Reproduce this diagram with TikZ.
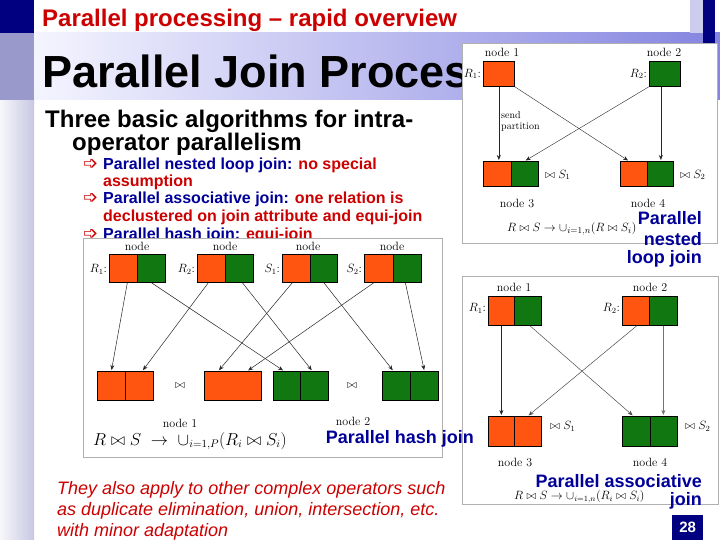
\documentclass[tikz,border=0pt]{standalone}
\usepackage{fontspec}
\newfontfamily\arial{Liberation Sans}
\newfontfamily\dejavu{DejaVu Sans}
\usetikzlibrary{arrows.meta}
\definecolor{navy}{HTML}{000080}
\definecolor{peri}{HTML}{9999CC}
\definecolor{lav}{HTML}{CCCCEE}
\definecolor{og}{HTML}{FF5511}
\definecolor{gr}{HTML}{117711}
\definecolor{tblue}{HTML}{000099}
\definecolor{tred}{HTML}{CC0000}
\definecolor{boxgray}{HTML}{B0B0B0}
\begin{document}
\begin{tikzpicture}[x=1pt,y=-1pt,
  cell/.style={draw=black, line width=0.7pt, inner sep=0pt, anchor=north west},
  ocell/.style={cell, fill=og},
  gcell/.style={cell, fill=gr},
  arr/.style={-{Stealth[length=5pt,width=4pt]}, line width=0.5pt, draw=black!85, shorten >=1pt},
  picbox/.style={draw=boxgray, line width=0.6pt, fill=white},
  nodelbl/.style={font=\fontsize{12}{14}\selectfont, inner sep=0pt},
  mathlbl/.style={font=\fontsize{12}{14}\selectfont, inner sep=0pt},
  bluelbl/.style={font=\arial\bfseries\fontsize{18}{20}\selectfont, text=tblue, inner sep=0pt, anchor=base east},
  bullettxt/.style={font=\arial\bfseries\fontsize{16}{18}\selectfont, inner sep=0pt, anchor=base west},
  bulletsym/.style={font=\dejavu\fontsize{18}{19}\selectfont, text=tred, inner sep=0pt, anchor=base west},
  italictxt/.style={font=\arial\itshape\fontsize{18}{20}\selectfont, text=tred, inner sep=0pt, anchor=base west}]
\useasboundingbox (0,0) rectangle (720,540);
% backgrounds
\fill[white] (0,0) rectangle (720,540);
\shade[left color=white!92!peri, right color=white!45!peri] (0,100) rectangle (34,540);
\fill[peri] (0,33) rectangle (34,100);
\fill[navy] (0,0) rectangle (34,33);
\shade[left color=white!90!blue!40, right color=white!40!blue!40!peri] (34,33) rectangle (720,100);
\fill[lav] (690,0) rectangle (703,33);
\fill[navy] (703,0) rectangle (715,43);
% titles
\node[font=\arial\bfseries\fontsize{24}{26}\selectfont, text=tred, inner sep=0pt, anchor=base west] (sub) at (42,27) {Parallel processing – rapid overview};
\begin{scope}
\clip (34,33) rectangle (462,100);
\node[font=\arial\bfseries\fontsize{45}{48}\selectfont, text=black, inner sep=0pt, anchor=base west] (title) at (42,88) {Parallel Join Process};
\end{scope}
\node[font=\arial\bfseries\fontsize{24}{26}\selectfont, inner sep=0pt, anchor=base west] (h1) at (45,128) {Three basic algorithms for intra-};
\node[font=\arial\bfseries\fontsize{24}{26}\selectfont, inner sep=0pt, anchor=base west] (h2) at (72,151) {operator parallelism};
% bullets
\node[bulletsym] (b1s) at (83,170) {➩};
\node[bullettxt] (b1) at (103,170) {\textcolor{tblue}{Parallel nested loop join:} \textcolor{tred}{no special}};
\node[bullettxt] (b1b) at (103,187) {\textcolor{tred}{assumption}};
\node[bulletsym] (b2s) at (83,204) {➩};
\node[bullettxt] (b2) at (103,204) {\textcolor{tblue}{Parallel associative join:} \textcolor{tred}{one relation is}};
\node[bullettxt] (b2b) at (103,222) {\textcolor{tred}{declustered on join attribute and equi-join}};
\node[bulletsym] (b3s) at (83,240) {➩};
\node[bullettxt] (b3) at (103,240) {\textcolor{tblue}{Parallel hash join:} \textcolor{tred}{equi-join}};
% bottom italic
\node[italictxt] (it1) at (57,494) {They also apply to other complex operators such};
\node[italictxt] (it2) at (57,515) {as duplicate elimination, union, intersection, etc.};
\node[italictxt] (it3) at (57,536) {with minor adaptation};

% ===== nested loop picture =====
\path[picbox] (462,43) rectangle (717,243);
\node[nodelbl] (nl1) at (502,52) {node 1};
\node[nodelbl] (nl2) at (664,52) {node 2};
\node[ocell, minimum width=31pt, minimum height=25pt] (nr1) at (483,61) {};
\node[gcell, minimum width=31pt, minimum height=25pt] (nr2) at (649,61) {};
\node[mathlbl, anchor=east] (nr1l) at (481,74) {$R_1$:};
\node[mathlbl, anchor=east] (nr2l) at (647,74) {$R_2$:};
\node[ocell, minimum width=28pt, minimum height=25pt] (n3a) at (483,161) {};
\node[gcell, minimum width=27pt, minimum height=25pt] (n3b) at (511,161) {};
\node[ocell, minimum width=27pt, minimum height=25pt] (n4a) at (620,161) {};
\node[gcell, minimum width=26pt, minimum height=25pt] (n4b) at (647,161) {};
\node[font=\fontsize{10}{11}\selectfont, align=left, anchor=north west, inner sep=0pt] (sp) at (501,111) {send\\partition};
\draw[arr] (nr1.south) -- (nr1.south |- n3a.north);
\draw[arr, line width=0.4pt] (nr1.south east) -- ([xshift=-5pt]n4a.north);
\draw[arr, line width=0.4pt] (nr2.south west) -- (n3b.north);
\draw[arr] ([xshift=-4pt]nr2.south) -- ([xshift=-4pt]nr2.south |- n4b.north);
\node[mathlbl, anchor=west] (n3j) at (545,175) {$\bowtie S_1$};
\node[mathlbl, anchor=west] (n4j) at (680,175) {$\bowtie S_2$};
\node[nodelbl] (nl3) at (517,203) {node 3};
\node[nodelbl] (nl4) at (648,203) {node 4};
\node[font=\fontsize{13}{15}\selectfont, inner sep=0pt, anchor=west] (nf) at (507,229) {$R\bowtie S\rightarrow\cup_{i=1,n}(R\bowtie S_i)$};

% ===== hash join picture =====
\path[picbox] (83,238) rectangle (442,457);
\foreach \n/\x in {1/137,2/225,3/308,4/392} \node[nodelbl] (hl\n) at (\x,246) {node};
\node[ocell, minimum width=28pt, minimum height=28pt] (hr1o) at (109,254) {};
\node[gcell, minimum width=28pt, minimum height=28pt] (hr1g) at (137,254) {};
\node[ocell, minimum width=28pt, minimum height=28pt] (hr2o) at (197,254) {};
\node[gcell, minimum width=28pt, minimum height=28pt] (hr2g) at (225,254) {};
\node[ocell, minimum width=28pt, minimum height=28pt] (hs1o) at (282,254) {};
\node[gcell, minimum width=27pt, minimum height=28pt] (hs1g) at (310,254) {};
\node[ocell, minimum width=29pt, minimum height=28pt] (hs2o) at (364,254) {};
\node[gcell, minimum width=28pt, minimum height=28pt] (hs2g) at (393,254) {};
\node[mathlbl, anchor=east] (hr1l) at (107,269) {$R_1$:};
\node[mathlbl, anchor=east] (hr2l) at (195,269) {$R_2$:};
\node[mathlbl, anchor=east] (hs1l) at (280,269) {$S_1$:};
\node[mathlbl, anchor=east] (hs2l) at (362,269) {$S_2$:};
\node[ocell, minimum width=28pt, minimum height=29pt] (ba1) at (97,371) {};
\node[ocell, minimum width=28pt, minimum height=29pt] (ba2) at (125,371) {};
\node[ocell, minimum width=57pt, minimum height=29pt] (bb) at (204,371) {};
\node[gcell, minimum width=27pt, minimum height=29pt] (bc1) at (273,371) {};
\node[gcell, minimum width=28pt, minimum height=29pt] (bc2) at (300,371) {};
\node[gcell, minimum width=28pt, minimum height=29pt] (bd1) at (382,371) {};
\node[gcell, minimum width=28pt, minimum height=29pt] (bd2) at (410,371) {};
\draw[arr] ([xshift=4pt]hr1o.south) -- (ba1.north);
\draw[arr] (hr1g.south) -- ([xshift=-3pt]bc1.north);
\draw[arr] ([xshift=-3pt]hr2o.south) -- ([xshift=3pt]ba2.north);
\draw[arr] ([xshift=3pt]hr2g.south) -- ([xshift=-2pt]bc2.north);
\draw[arr] ([xshift=-4pt]hs1o.south) -- ([xshift=-14.5pt]bb.north);
\draw[arr] (hs1g.south) -- ([xshift=-3pt]bd1.north);
\draw[arr] ([xshift=-5pt]hs2o.south) -- ([xshift=14.5pt]bb.north);
\draw[arr] ([xshift=-2pt]hs2g.south) -- (bd2.north);
\node[mathlbl] (hj1) at (180,386) {$\bowtie$};
\node[mathlbl] (hj2) at (352,386) {$\bowtie$};
\node[nodelbl] (hn1) at (180,423) {node 1};
\node[nodelbl] (hn2) at (353,421) {node 2};
\node[font=\fontsize{16}{18}\selectfont, inner sep=0pt, anchor=west] (hf) at (93,441) {$R\bowtie S\;\rightarrow\;\cup_{i=1,P}(R_i\bowtie S_i)$};

% ===== associative join picture =====
\path[picbox] (462,276) rectangle (718,504);
\node[nodelbl] (al1) at (514,287) {node 1};
\node[nodelbl] (al2) at (650,287) {node 2};
\node[ocell, minimum width=26pt, minimum height=29pt] (ar1o) at (488,296) {};
\node[gcell, minimum width=27pt, minimum height=29pt] (ar1g) at (514,296) {};
\node[ocell, minimum width=27pt, minimum height=29pt] (ar2o) at (622,296) {};
\node[gcell, minimum width=28pt, minimum height=29pt] (ar2g) at (649,296) {};
\node[mathlbl, anchor=east] (ar1l) at (486,308) {$R_1$:};
\node[mathlbl, anchor=east] (ar2l) at (620,308) {$R_2$:};
\node[ocell, minimum width=26pt, minimum height=30pt] (a3a) at (488,416) {};
\node[ocell, minimum width=27pt, minimum height=30pt] (a3b) at (514,416) {};
\node[gcell, minimum width=28pt, minimum height=30pt] (a4a) at (622,416) {};
\node[gcell, minimum width=27pt, minimum height=30pt] (a4b) at (650,416) {};
\draw[arr] (ar1o.south) -- (ar1o.south |- a3a.north);
\draw[arr, draw=black!70] ([xshift=2pt]ar1g.south) -- ([xshift=-3pt]a4a.north);
\draw[arr, draw=black!70] ([xshift=1pt]ar2o.south) -- (a3b.north);
\draw[arr, draw=black!55] (ar2g.south) -- (ar2g.south |- a4b.north);
\node[mathlbl, anchor=west] (a3j) at (550,426) {$\bowtie S_1$};
\node[mathlbl, anchor=west] (a4j) at (685,426) {$\bowtie S_2$};
\node[nodelbl] (an3) at (515,462) {node 3};
\node[nodelbl] (an4) at (650,462) {node 4};
\node[mathlbl, anchor=west] (af) at (514,497) {$R\bowtie S\rightarrow\cup_{i=1,n}(R_i\bowtie S_i)$};

% blue captions on top
\node[bluelbl] (nb1) at (702,225) {Parallel};
\node[bluelbl] (nb2) at (702,245) {nested};
\node[bluelbl] (nb3) at (702,263) {loop join};
\node[bluelbl] (hb) at (474,443) {Parallel hash join};
\node[bluelbl] (ab1) at (702,487) {Parallel associative};
\node[bluelbl] (ab2) at (702,505) {join};

% page number
\node[fill=navy, text=white, font=\arial\bfseries\fontsize{15}{16}\selectfont, minimum width=31pt, minimum height=25pt, inner sep=0pt, anchor=north west] (pg) at (672,515) {28};
\end{tikzpicture}
\end{document}
